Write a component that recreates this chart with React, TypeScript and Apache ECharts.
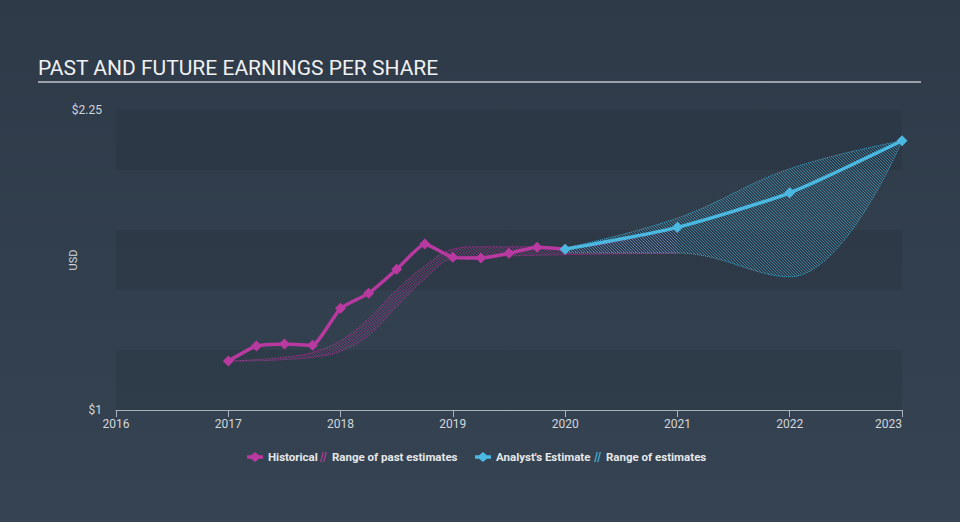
import React, { useEffect, useRef } from "react";
import * as echarts from "echarts";

const titleText = "PAST AND FUTURE EARNINGS PER SHARE";
const yTickLabels: Record<string, string> = { "1": "$1", "2.25": "$2.25" };
const xMinYear = 2016;
const xMaxYear = 2023;

const histX = [2017, 2017.25, 2017.5, 2017.75, 2018, 2018.25, 2018.5, 2018.75, 2019, 2019.25, 2019.5, 2019.75, 2020];
const histY = [1.204, 1.267, 1.275, 1.27, 1.424, 1.486, 1.586, 1.692, 1.636, 1.633, 1.653, 1.678, 1.67];

const estX = [2020, 2021, 2022, 2023];
const estY = [1.67, 1.761, 1.905, 2.122];

const pastX = [2017, 2017.25, 2017.5, 2017.75, 2018, 2018.25, 2018.5, 2018.75, 2019, 2019.25, 2019.5, 2019.75, 2020, 2021];
const pastLow = [1.204, 1.205, 1.21, 1.22, 1.245, 1.31, 1.43, 1.545, 1.632, 1.64, 1.642, 1.645, 1.647, 1.654];
const pastHigh = [1.204, 1.21, 1.22, 1.24, 1.29, 1.38, 1.5, 1.6, 1.67, 1.68, 1.68, 1.68, 1.677, 1.761];

const futX = [2020, 2021, 2022, 2023];
const futLow = [1.655, 1.654, 1.555, 2.122];
const futHigh = [1.675, 1.8, 2.005, 2.122];

const PINK = "#b8399f";
const BLUE = "#4ab8e0";

function toT(y: number) {
  const yr = Math.floor(y);
  const m = Math.round((y - yr) * 12);
  return new Date(yr, m, 1).getTime();
}

function hatch(color: string, n: number) {
  const c = document.createElement("canvas");
  c.width = n;
  c.height = n;
  const ctx = c.getContext("2d")!;
  ctx.fillStyle = color;
  for (let i = 0; i < n; i++) ctx.fillRect(i, i, 1, 1);
  return { image: c, repeat: "repeat", imageWidth: n, imageHeight: n } as any;
}

const lineIcon = "path://M0,3.3L4,3.3L8,0L12,3.3L16,3.3L16,6.7L12,6.7L8,10L4,6.7L0,6.7Z";
const hatchIcon = "path://M0,10L1.5,10L4,0L2.5,0Z M3,10L4.5,10L7,0L5.5,0Z";

export default function App() {
  const ref = useRef<HTMLDivElement>(null);
  useEffect(() => {
    const chart = echarts.init(ref.current!, null, { renderer: "svg" });
    const pair = (xs: number[], ys: number[]) => xs.map((x, i) => [x, ys[i]]);
    const pairT = (xs: number[], ys: number[]) => xs.map((x, i) => [toT(x), ys[i]]);
    const diffT = (xs: number[], hi: number[], lo: number[]) => xs.map((x, i) => [toT(x), hi[i] - lo[i]]);
    const legendText = { color: "#e6e8ea", fontSize: 11.5, fontWeight: "bold" as const, fontFamily: "Roboto" };
    const mkLegend = (left: number, name: string, icon: string, color: string, w: number) => ({
      left,
      top: 451,
      padding: 0,
      itemGap: 0,
      itemWidth: w,
      itemHeight: 10,
      selectedMode: false,
      textStyle: legendText,
      data: [{ name, icon, itemStyle: { color, borderWidth: 0 } }],
    });
    chart.setOption({
      animation: false,
      backgroundColor: "transparent",
      title: {
        text: titleText,
        left: 38,
        top: 57,
        padding: 0,
        textStyle: { color: "#f0f1f2", fontSize: 21, fontWeight: "normal", fontFamily: "Roboto" },
      },
      graphic: [
        {
          type: "line",
          shape: { x1: 38, y1: 82, x2: 921, y2: 82 },
          style: { stroke: "#9aa2ab", lineWidth: 2 },
          silent: true,
        },
      ],
      legend: [
        mkLegend(247, "Historical", lineIcon, PINK, 16),
        mkLegend(320, "Range of past estimates", hatchIcon, "rgba(184,57,159,0.8)", 7),
        mkLegend(475, "Analyst's Estimate", lineIcon, BLUE, 16),
        mkLegend(594, "Range of estimates", hatchIcon, "rgba(74,184,224,0.8)", 7),
      ],
      grid: { left: 116, right: 58, top: 110, bottom: 112 },
      xAxis: [
        {
          type: "value",
          min: xMinYear,
          max: xMaxYear,
          interval: 1,
          axisLine: { show: true, lineStyle: { color: "#aab2bb", width: 1 } },
          axisTick: { show: true, length: 7, lineStyle: { color: "#aab2bb" } },
          axisLabel: {
            color: "#d3d7db",
            fontSize: 12,
            fontFamily: "Roboto",
            margin: 8,
            alignMaxLabel: "right",
            formatter: (v: number) => String(v),
          },
          splitLine: { show: false },
        },
        {
          type: "time",
          min: toT(xMinYear),
          max: toT(xMaxYear),
          show: false,
          splitLine: { show: false },
        },
      ],
      yAxis: {
        type: "value",
        min: 1,
        max: 2.25,
        interval: 0.25,
        name: "USD",
        nameLocation: "middle",
        nameGap: 37,
        nameMoveOverlap: false,
        nameTextStyle: { color: "#d3d7db", fontSize: 11, fontFamily: "Roboto" },
        axisLine: { show: false },
        axisTick: { show: false },
        axisLabel: {
          color: "#d3d7db",
          fontSize: 12,
          fontFamily: "Roboto",
          margin: 14,
          formatter: (v: number) => yTickLabels[String(v)] ?? "",
        },
        splitLine: { show: false },
        splitArea: {
          show: true,
          areaStyle: { color: ["rgba(30,40,52,0.2)", "rgba(0,0,0,0)"] },
        },
      },
      series: [
        {
          name: "pastLow",
          type: "line",
          xAxisIndex: 1,
          stack: "past",
          data: pairT(pastX, pastLow),
          smooth: 0.4,
          symbol: "none",
          lineStyle: { color: PINK, width: 1, type: "dotted", opacity: 0.8 },
          silent: true,
          z: 1,
        },
        {
          name: "Range of past estimates",
          type: "line",
          xAxisIndex: 1,
          stack: "past",
          data: diffT(pastX, pastHigh, pastLow),
          smooth: 0.4,
          symbol: "none",
          itemStyle: { color: PINK },
          lineStyle: { color: PINK, width: 1, type: "dotted", opacity: 0.8 },
          areaStyle: { color: hatch("rgba(184,57,159,0.5)", 3), opacity: 1 },
          silent: true,
          z: 1,
        },
        {
          name: "futLow",
          type: "line",
          xAxisIndex: 1,
          stack: "fut",
          data: pairT(futX, futLow),
          smooth: 0.4,
          symbol: "none",
          lineStyle: { color: BLUE, width: 1, type: "dotted", opacity: 0.8 },
          silent: true,
          z: 1,
        },
        {
          name: "Range of estimates",
          type: "line",
          xAxisIndex: 1,
          stack: "fut",
          data: diffT(futX, futHigh, futLow),
          smooth: 0.4,
          symbol: "none",
          itemStyle: { color: BLUE },
          lineStyle: { color: BLUE, width: 1, type: "dotted", opacity: 0.8 },
          areaStyle: { color: hatch("rgba(74,184,224,0.55)", 3), opacity: 1 },
          silent: true,
          z: 1,
        },
        {
          name: "Historical",
          type: "line",
          xAxisIndex: 0,
          data: pair(histX, histY),
          smooth: 0.15,
          symbol: "diamond",
          symbolSize: 11,
          itemStyle: { color: PINK },
          lineStyle: { color: PINK, width: 3.5 },
          silent: true,
          z: 3,
        },
        {
          name: "Analyst's Estimate",
          type: "line",
          xAxisIndex: 0,
          data: pair(estX, estY),
          smooth: 0.2,
          symbol: "diamond",
          symbolSize: 11,
          itemStyle: { color: BLUE },
          lineStyle: { color: BLUE, width: 3.5 },
          silent: true,
          z: 4,
        },
      ],
    });
    return () => chart.dispose();
  }, []);
  return (
    <div
      style={{
        position: "fixed",
        left: 0,
        top: 0,
        width: 960,
        height: 522,
        background: "linear-gradient(180deg, #2e3a48 0%, #354352 100%)",
      }}
    >
      <div ref={ref} style={{ width: 960, height: 522 }} />
    </div>
  );
}
